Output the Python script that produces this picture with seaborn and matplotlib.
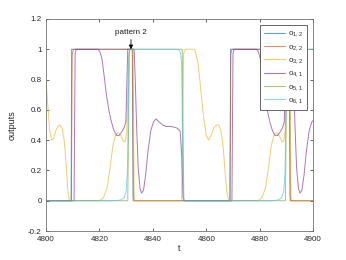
import numpy as np
import pandas as pd
import seaborn as sns
import matplotlib.pyplot as plt
from matplotlib.lines import Line2D

# key points (t, output)
t_o12 = [4800, 4809.4, 4809.6, 4832.4, 4832.6, 4868.9, 4869.1, 4891.2, 4891.4, 4900]
y_o12 = [0, 0, 1, 1, 0, 0, 1, 1, 0, 0]

t_o22 = [4800, 4809.5, 4809.8, 4810.3, 4832.3, 4832.7, 4833.0, 4868.8, 4869.2,
         4869.6, 4891.0, 4891.4, 4891.7, 4900]
y_o22 = [0, 0, 0.97, 1, 1, 0.03, 0, 0, 0.97, 1, 1, 0.03, 0, 0]

t_o32 = [4800, 4800.7, 4801.4, 4802.1, 4802.8, 4803.6, 4804.4, 4805.2, 4806.0, 4806.8,
         4807.5, 4808.1, 4808.6, 4809.0, 4820.0, 4821.5, 4822.8, 4824.0, 4825.0, 4826.0,
         4827.0, 4828.0, 4829.0, 4829.6, 4830.2, 4830.6, 4831.0, 4831.5, 4832.6, 4832.8,
         4833.0, 4850.8, 4851.1, 4851.5, 4852.2, 4855.5, 4856.0, 4857.0, 4858.0, 4859.0,
         4860.0, 4860.9, 4861.8, 4862.8, 4863.8, 4864.6, 4865.4, 4866.2, 4867.0, 4867.6,
         4868.2, 4868.6, 4879.3, 4880.8, 4882.1, 4883.3, 4884.3, 4885.3, 4886.3, 4887.3,
         4888.3, 4888.9, 4889.5, 4889.9, 4890.3, 4890.8, 4891.3, 4891.5, 4891.7, 4900]
y_o32 = [0.80, 0.62, 0.46, 0.40, 0.41, 0.46, 0.49, 0.50, 0.48, 0.40,
         0.25, 0.08, 0.01, 0, 0, 0.02, 0.08, 0.22, 0.36, 0.43,
         0.45, 0.43, 0.39, 0.39, 0.45, 0.70, 0.97, 1.0, 1.0, 0.5,
         0, 0, 0.5, 0.97, 1.0, 1.0, 0.98, 0.90, 0.72, 0.55,
         0.43, 0.40, 0.43, 0.48, 0.50, 0.50, 0.47, 0.38, 0.20, 0.07,
         0.01, 0, 0, 0.02, 0.08, 0.22, 0.36, 0.43, 0.45, 0.43,
         0.39, 0.39, 0.45, 0.70, 0.97, 1.0, 1.0, 0.5, 0, 0]

t_o41 = [4800, 4810.5, 4810.7, 4810.9, 4811.3, 4819.5, 4820.3, 4821.0, 4821.8, 4822.6,
         4823.5, 4824.5, 4825.5, 4826.5, 4827.3, 4828.2, 4829.2, 4829.9, 4830.3, 4830.6,
         4833.0, 4833.4, 4833.9, 4834.5, 4835.2, 4835.8, 4836.5, 4837.3, 4838.2, 4839.2,
         4840.2, 4841.2, 4842.4, 4843.6, 4845.0, 4847.0, 4849.0, 4850.2, 4850.8, 4851.3,
         4851.7, 4869.6, 4869.8, 4870.0, 4870.4, 4878.8, 4879.6, 4880.3, 4881.1, 4881.9,
         4882.8, 4883.8, 4884.8, 4885.8, 4886.6, 4887.5, 4888.5, 4889.2, 4889.6, 4889.9,
         4892.3, 4892.7, 4893.2, 4893.8, 4894.5, 4895.1, 4895.8, 4896.6, 4897.5, 4898.5,
         4899.5, 4900]
y_o41 = [0, 0, 0.5, 0.97, 1.0, 1.0, 0.98, 0.93, 0.82, 0.70,
         0.60, 0.52, 0.46, 0.43, 0.43, 0.45, 0.48, 0.52, 0.80, 1.0,
         1.0, 0.80, 0.50, 0.22, 0.08, 0.05, 0.07, 0.17, 0.33, 0.46,
         0.52, 0.54, 0.52, 0.50, 0.49, 0.49, 0.48, 0.46, 0.30, 0.02,
         0, 0, 0.5, 0.97, 1.0, 1.0, 0.98, 0.93, 0.82, 0.70,
         0.60, 0.52, 0.46, 0.43, 0.43, 0.45, 0.48, 0.52, 0.80, 1.0,
         1.0, 0.80, 0.50, 0.22, 0.08, 0.05, 0.07, 0.17, 0.33, 0.46,
         0.52, 0.53]

t_o51 = [4800, 4830.6, 4830.9, 4831.2, 4851.0, 4851.3, 4851.6, 4889.6, 4889.9, 4890.2, 4900]
y_o51 = [0, 0, 0.5, 1, 1, 0.5, 0, 0, 0.5, 1, 1]

t_o61 = [4800, 4826, 4828, 4829.2, 4830.0, 4830.5, 4830.8, 4831.0, 4831.4, 4849.5,
         4850.3, 4850.8, 4851.1, 4851.4, 4851.8, 4885, 4887, 4888.2, 4889.0, 4889.5,
         4889.8, 4890.0, 4890.4, 4900]
y_o61 = [0, 0, 0.005, 0.02, 0.06, 0.2, 0.6, 0.95, 1.0, 1.0,
         0.98, 0.9, 0.4, 0.02, 0, 0, 0.005, 0.02, 0.06, 0.2,
         0.6, 0.95, 1.0, 1.0]

labels = [r'o$_{1,2}$', r'o$_{2,2}$', r'o$_{3,2}$', r'o$_{4,1}$', r'o$_{5,1}$', r'o$_{6,1}$']
colors = ['#0072BD', '#D95319', '#EDB120', '#7E2F8E', '#77AC30', '#4DBEEE']
series = [(t_o12, y_o12), (t_o22, y_o22), (t_o32, y_o32),
          (t_o41, y_o41), (t_o51, y_o51), (t_o61, y_o61)]

frames = []
for lab, (t, y) in zip(labels, series):
    frames.append(pd.DataFrame({'t': t, 'outputs': y, 'series': lab}))
df = pd.concat(frames, ignore_index=True)

sns.set_style('ticks', {'xtick.direction': 'in', 'ytick.direction': 'in'})
plt.rcParams['font.family'] = ['Liberation Sans', 'DejaVu Sans']
plt.rcParams['mathtext.fontset'] = 'custom'
plt.rcParams['mathtext.rm'] = 'Liberation Sans'
plt.rcParams['mathtext.it'] = 'Liberation Sans'

fig = plt.figure(figsize=(3.46, 2.6), dpi=100)
ax = fig.add_axes([0.133, 0.1115, 0.772, 0.8155])

sns.lineplot(data=df, x='t', y='outputs', hue='series', hue_order=labels,
             palette=dict(zip(labels, colors)), estimator=None, sort=False,
             linewidth=0.7, alpha=0.65, legend=False, ax=ax)

ax.annotate('pattern 2', xy=(4831.8, 1.0), xytext=(4831.8, 1.085),
            ha='center', va='bottom', fontsize=5.8, color='0.1',
            arrowprops=dict(arrowstyle='-|>', color='k', lw=0.6,
                            mutation_scale=6, shrinkA=0, shrinkB=0))

ax.set_xlim(4800, 4900)
ax.set_ylim(-0.2, 1.2)
ax.set_xticks([4800, 4820, 4840, 4860, 4880, 4900])
ax.set_yticks([-0.2, 0, 0.2, 0.4, 0.6, 0.8, 1, 1.2])
ax.set_yticklabels(['-0.2', '0', '0.2', '0.4', '0.6', '0.8', '1', '1.2'])
ax.set_xlabel('t', fontsize=6.5, color='0.15', labelpad=1)
ax.set_ylabel('outputs', fontsize=6.5, color='0.15', labelpad=8)
ax.tick_params(axis='both', labelsize=5.8, colors='0.15', length=2.5, width=0.5,
               top=True, right=True)
ax.tick_params(axis='x', pad=3.5)
ax.tick_params(axis='y', pad=3)
for s in ax.spines.values():
    s.set_visible(True)
    s.set_color('0.45')
    s.set_linewidth(0.6)

handles = [Line2D([], [], color=c, lw=0.8, alpha=0.65) for c in colors]
leg = ax.legend(handles, labels, loc='upper right', fontsize=5.8, frameon=True,
                fancybox=False, framealpha=1, edgecolor='0.3', handlelength=2.6,
                handletextpad=0.3, labelspacing=0.42, borderaxespad=0.8,
                borderpad=0.5)
leg.get_frame().set_linewidth(0.6)

fig.savefig('out.png', dpi=100)
